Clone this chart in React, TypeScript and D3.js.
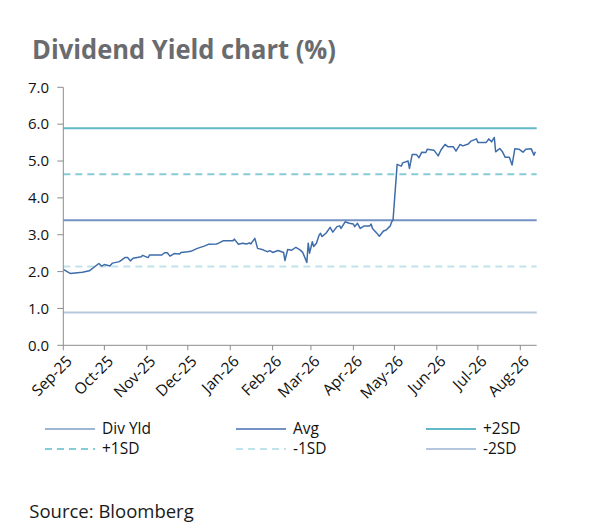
import React from "react";
import * as d3 from "d3";

const TITLE = "Dividend Yield chart (%)";
const SOURCE = "Source: Bloomberg";

const monthTicks = [
  "2025-09-01", "2025-10-01", "2025-11-01", "2025-12-01", "2026-01-01", "2026-02-01",
  "2026-03-01", "2026-04-01", "2026-05-01", "2026-06-01", "2026-07-01", "2026-08-01",
];
const monthLabels = [
  "Sep-25", "Oct-25", "Nov-25", "Dec-25", "Jan-26", "Feb-26",
  "Mar-26", "Apr-26", "May-26", "Jun-26", "Jul-26", "Aug-26",
];
const yTicks = [0, 1, 2, 3, 4, 5, 6, 7];

const divYield: [string, number][] = [
  ["2025-09-01", 2.06], ["2025-09-06", 1.95], ["2025-09-15", 1.98], ["2025-09-20", 2.02],
  ["2025-09-27", 2.22], ["2025-09-29", 2.15], ["2025-10-01", 2.19], ["2025-10-05", 2.15],
  ["2025-10-07", 2.23], ["2025-10-12", 2.27], ["2025-10-16", 2.38], ["2025-10-18", 2.38],
  ["2025-10-20", 2.29], ["2025-10-22", 2.36], ["2025-10-28", 2.40], ["2025-10-29", 2.44],
  ["2025-11-02", 2.38], ["2025-11-03", 2.45], ["2025-11-12", 2.45], ["2025-11-14", 2.51],
  ["2025-11-16", 2.51], ["2025-11-18", 2.42], ["2025-11-21", 2.49], ["2025-11-25", 2.48],
  ["2025-11-26", 2.52], ["2025-12-01", 2.54], ["2025-12-04", 2.56], ["2025-12-08", 2.63],
  ["2025-12-13", 2.69], ["2025-12-16", 2.74], ["2025-12-22", 2.75], ["2025-12-24", 2.78],
  ["2025-12-27", 2.84], ["2026-01-03", 2.84], ["2026-01-04", 2.88], ["2026-01-07", 2.74],
  ["2026-01-10", 2.77], ["2026-01-13", 2.75], ["2026-01-15", 2.78], ["2026-01-16", 2.75],
  ["2026-01-19", 2.90], ["2026-01-21", 2.63], ["2026-01-25", 2.59], ["2026-01-28", 2.54],
  ["2026-01-30", 2.57], ["2026-02-01", 2.52], ["2026-02-05", 2.57], ["2026-02-09", 2.52],
  ["2026-02-10", 2.30], ["2026-02-12", 2.60], ["2026-02-15", 2.58], ["2026-02-18", 2.66],
  ["2026-02-21", 2.59], ["2026-02-23", 2.52], ["2026-02-26", 2.25], ["2026-02-27", 2.77],
  ["2026-02-28", 2.50], ["2026-03-02", 2.81], ["2026-03-03", 2.68], ["2026-03-05", 2.77],
  ["2026-03-07", 2.99], ["2026-03-08", 3.04], ["2026-03-09", 2.95], ["2026-03-12", 3.04],
  ["2026-03-15", 3.20], ["2026-03-17", 3.07], ["2026-03-20", 3.22], ["2026-03-22", 3.24],
  ["2026-03-23", 3.17], ["2026-03-26", 3.35], ["2026-03-29", 3.31], ["2026-04-01", 3.29],
  ["2026-04-02", 3.22], ["2026-04-04", 3.31], ["2026-04-06", 3.17], ["2026-04-09", 3.24],
  ["2026-04-13", 3.24], ["2026-04-14", 3.29], ["2026-04-15", 3.17], ["2026-04-18", 3.05],
  ["2026-04-20", 2.96], ["2026-04-23", 3.10], ["2026-04-25", 3.13], ["2026-04-28", 3.24],
  ["2026-04-29", 3.35], ["2026-04-30", 3.40], ["2026-05-03", 4.91], ["2026-05-06", 4.86],
  ["2026-05-07", 4.95], ["2026-05-11", 5.00], ["2026-05-12", 4.80], ["2026-05-14", 5.18],
  ["2026-05-17", 5.18], ["2026-05-19", 5.09], ["2026-05-21", 5.24], ["2026-05-24", 5.23],
  ["2026-05-25", 5.32], ["2026-05-30", 5.29], ["2026-06-02", 5.14], ["2026-06-04", 5.30],
  ["2026-06-07", 5.45], ["2026-06-09", 5.39], ["2026-06-13", 5.39], ["2026-06-15", 5.27],
  ["2026-06-18", 5.45], ["2026-06-20", 5.41], ["2026-06-24", 5.46], ["2026-06-26", 5.54],
  ["2026-06-30", 5.60], ["2026-07-01", 5.50], ["2026-07-07", 5.50], ["2026-07-09", 5.60],
  ["2026-07-11", 5.52], ["2026-07-13", 5.64], ["2026-07-14", 5.25], ["2026-07-17", 5.34],
  ["2026-07-19", 5.25], ["2026-07-21", 5.10], ["2026-07-24", 5.10], ["2026-07-26", 4.89],
  ["2026-07-28", 5.33], ["2026-07-31", 5.32], ["2026-08-03", 5.24], ["2026-08-05", 5.32],
  ["2026-08-09", 5.33], ["2026-08-11", 5.16], ["2026-08-12", 5.25],
];

const refNames = ["Avg", "+2SD", "+1SD", "-1SD", "-2SD"];
const refValues = [3.39, 5.89, 4.64, 2.14, 0.89];
const refColors = ["#7592c4", "#62b8c6", "#86ccd7", "#bfe3ea", "#b6c7dd"];
const refDashes = ["", "", "7,5", "7,5", ""];

const legendNames = ["Div Yld", "Avg", "+2SD", "+1SD", "-1SD", "-2SD"];
const legendColors = ["#3e6daa", "#7592c4", "#62b8c6", "#86ccd7", "#bfe3ea", "#b6c7dd"];
const legendDashes = ["", "", "", "7,5", "7,5", ""];
const legendWidths = [1.2, 2, 2, 2, 2, 2];

const FONT = "'Open Sans', sans-serif";

export default function App() {
  const parse = d3.timeParse("%Y-%m-%d");
  const x = d3
    .scaleTime()
    .domain([new Date(2025, 8, 1), new Date(2026, 7, 13)])
    .range([63.3, 536.7]);
  const y = d3.scaleLinear().domain([0, 7]).range([345.3, 87.3]);

  const line = d3
    .line<[string, number]>()
    .x((d) => x(parse(d[0]) as Date))
    .y((d) => y(d[1]));

  const [x0, x1] = x.range();
  const axisColor = "#8c8c8c";

  const legendCols = [45, 236, 426];
  const legendRows = [429, 449];

  return (
    <svg
      width={600}
      height={531}
      style={{ position: "absolute", left: 0, top: 0, background: "#fff" }}
      fontFamily={FONT}
    >
      <rect width={600} height={531} fill="#fff" />
      <text x={32} y={59.3} fontSize={26} fontWeight={700} fill="#6a6b6e" textLength={304} lengthAdjust="spacingAndGlyphs">
        {TITLE}
      </text>

      {refValues.map((v, i) => (
        <line
          key={refNames[i]}
          x1={x0}
          x2={x1}
          y1={y(v)}
          y2={y(v)}
          stroke={refColors[i]}
          strokeWidth={2}
          strokeDasharray={refDashes[i] || undefined}
        />
      ))}

      <path d={line(divYield) || ""} fill="none" stroke="#3e6daa" strokeWidth={1.5} strokeLinejoin="round" />

      <line x1={x0} x2={x0} y1={y(7)} y2={y(0)} stroke={axisColor} strokeWidth={1} />
      {yTicks.map((t) => (
        <g key={t}>
          <line x1={x0 - 6} x2={x0} y1={y(t)} y2={y(t)} stroke={axisColor} />
          <text x={49} y={y(t)} dy="0.35em" textAnchor="end" fontSize={15} fill="#111">
            {d3.format(".1f")(t)}
          </text>
        </g>
      ))}

      <line x1={x0} x2={x1} y1={y(0)} y2={y(0)} stroke={axisColor} strokeWidth={1} />
      {monthTicks.map((m, i) => {
        const tx = x(parse(m) as Date);
        return (
          <g key={m}>
            <line x1={tx} x2={tx} y1={y(0)} y2={y(0) + 5} stroke={axisColor} />
            <text
              transform={`translate(${tx + 6},${y(0) + 13}) rotate(-45)`}
              textAnchor="end"
              dy="0.35em"
              fontSize={15.5}
              fill="#111"
            >
              {monthLabels[i]}
            </text>
          </g>
        );
      })}

      {legendNames.map((n, i) => {
        const cx = legendCols[i % 3];
        const cy = legendRows[Math.floor(i / 3)];
        return (
          <g key={n}>
            <line
              x1={cx}
              x2={cx + 50}
              y1={cy}
              y2={cy}
              stroke={legendColors[i]}
              strokeWidth={legendWidths[i]}
              strokeDasharray={legendDashes[i] || undefined}
            />
            <text x={cx + 57} y={cy} dy="0.35em" fontSize={15.5} fill="#111">
              {n}
            </text>
          </g>
        );
      })}

      <text x={29.3} y={518.3} fontSize={18.5} fill="#1a1a1a">
        {SOURCE}
      </text>
    </svg>
  );
}
